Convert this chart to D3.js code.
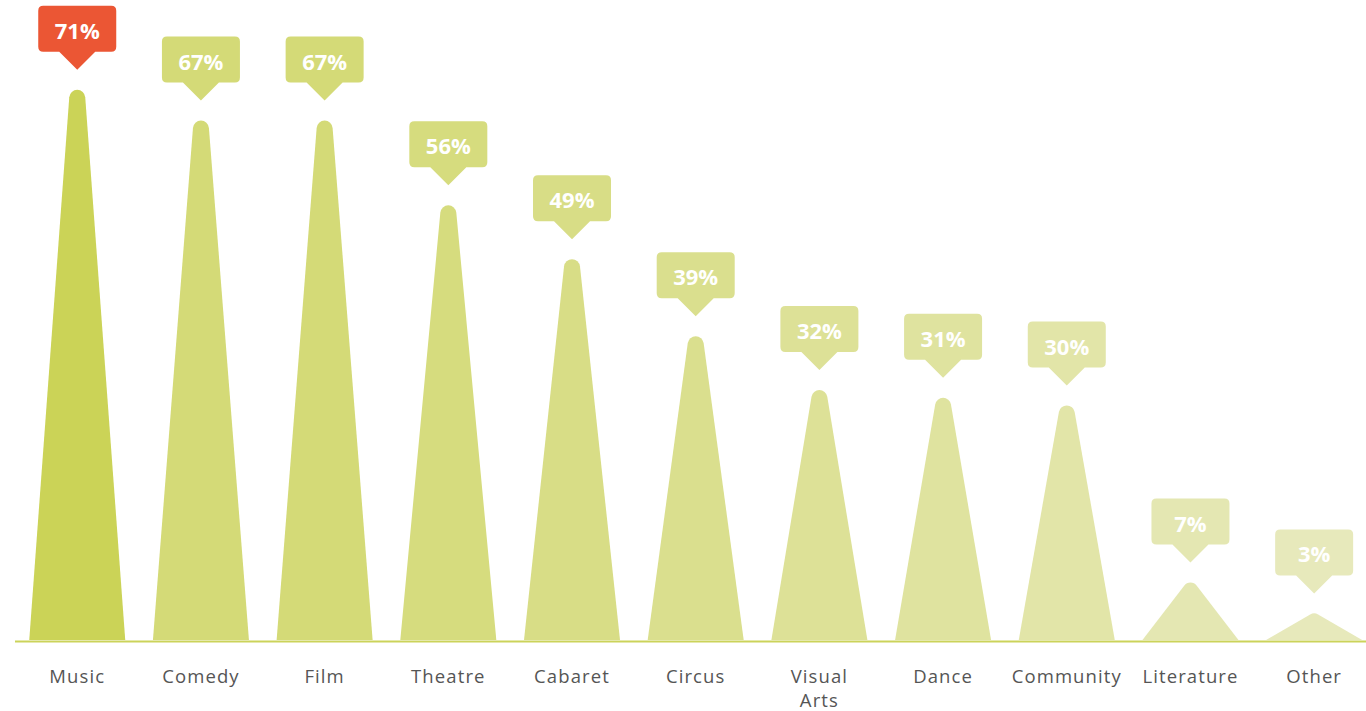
<!DOCTYPE html>
<html>
<head>
<meta charset="utf-8">
<script src="https://cdn.jsdelivr.net/npm/d3@7"></script>
<style>
  html, body { margin: 0; padding: 0; background: #fff; }
  svg { display: block; }
</style>
</head>
<body>
<svg id="chart" width="1366" height="711"></svg>
<script>
// Share of respondents by art form
const categories = ["Music", "Comedy", "Film", "Theatre", "Cabaret", "Circus", "Visual Arts", "Dance", "Community", "Literature", "Other"];
const values = [71, 67, 67, 56, 49, 39, 32, 31, 30, 7, 3];
const valueLabels = ["71%", "67%", "67%", "56%", "49%", "39%", "32%", "31%", "30%", "7%", "3%"];
const fills = ["#CBD357", "#D4DA77", "#D4DA77", "#D6DC7E", "#D8DD86", "#DADF8E", "#DDE197", "#DFE39F", "#E2E5A8", "#E4E7B2", "#E7E9BB"];
const highlight = "#EB5634";

const svg = d3.select("#chart");
const W = 1366;
const baseY = 641;

const x = d3.scalePoint().domain(categories).range([15.4, 1376]).padding(0.5);
const y = d3.scaleLinear().domain([0, 80]).range([636.5, 20.5]);

const halfBase = 49;
const tipR = 8;

// Peak shape: straight flanks from the base corners, tangent to a round cap
function peakPath(cx, top) {
  const c = [cx, top + tipR];
  const bottom = baseY - 1;
  const pts = [];
  [-1, 1].forEach(s => {
    const px = cx + s * halfBase, py = bottom;
    const dx = px - c[0], dy = py - c[1];
    const D = Math.hypot(dx, dy);
    const phi = Math.atan2(dy, dx);
    const a = Math.acos(tipR / D);
    const ang = s < 0 ? phi + a : phi - a;
    pts.push([c[0] + tipR * Math.cos(ang), c[1] + tipR * Math.sin(ang)]);
  });
  const p = d3.path();
  p.moveTo(cx - halfBase + 1, bottom);
  p.lineTo(pts[0][0], pts[0][1]);
  const startA = Math.atan2(pts[0][1] - c[1], pts[0][0] - c[0]);
  const endA = Math.atan2(pts[1][1] - c[1], pts[1][0] - c[0]);
  p.arc(c[0], c[1], tipR, startA, endA, false);
  p.lineTo(cx + halfBase - 1, bottom);
  p.closePath();
  return p.toString();
}

const data = categories.map((c, i) => ({ cat: c, v: values[i], label: valueLabels[i], fill: fills[i], i }));

svg.append("g").selectAll("path")
  .data(data)
  .join("path")
  .attr("d", d => peakPath(x(d.cat), y(d.v)))
  .attr("fill", d => d.fill);

// Baseline
svg.append("line")
  .attr("x1", 15).attr("x2", W)
  .attr("y1", baseY + 0.5).attr("y2", baseY + 0.5)
  .attr("stroke", "#CBD35A").attr("stroke-width", 2);

// Value callouts
const boxW = 78, boxH = 46, ptr = 18, gap = 20, rr = 5;
function calloutPath(cx, tipY) {
  const b = tipY - ptr, t = b - boxH, l = cx - boxW / 2, r = cx + boxW / 2;
  return `M${l + rr},${t} H${r - rr} Q${r},${t} ${r},${t + rr} V${b - rr} Q${r},${b} ${r - rr},${b}` +
         ` H${cx + ptr} L${cx},${tipY} L${cx - ptr},${b} H${l + rr} Q${l},${b} ${l},${b - rr} V${t + rr} Q${l},${t} ${l + rr},${t} Z`;
}

const callouts = svg.append("g").selectAll("g")
  .data(data)
  .join("g");

callouts.append("path")
  .attr("d", d => calloutPath(x(d.cat), y(d.v) - gap))
  .attr("fill", d => d.i === 0 ? highlight : d.fill);

callouts.append("text")
  .attr("x", d => x(d.cat))
  .attr("y", d => y(d.v) - gap - ptr - boxH + 33)
  .attr("text-anchor", "middle")
  .attr("fill", "#fff")
  .attr("font-family", "'Open Sans', sans-serif")
  .attr("font-weight", 700)
  .attr("font-size", 22)
  .text(d => d.label);

// Category labels (wrapped on spaces for two-word names)
const labels = svg.append("g").selectAll("text")
  .data(data)
  .join("text")
  .attr("x", d => x(d.cat))
  .attr("y", 683)
  .attr("text-anchor", "middle")
  .attr("fill", "#555")
  .attr("font-family", "'Open Sans', sans-serif")
  .attr("font-size", 18.5)
  .attr("letter-spacing", 1.1);

labels.each(function(d) {
  const words = d.cat.split(" ");
  const t = d3.select(this);
  words.forEach((w, k) => {
    t.append("tspan")
      .attr("x", x(d.cat))
      .attr("dy", k === 0 ? 0 : 24)
      .text(w);
  });
});
</script>
</body>
</html>
